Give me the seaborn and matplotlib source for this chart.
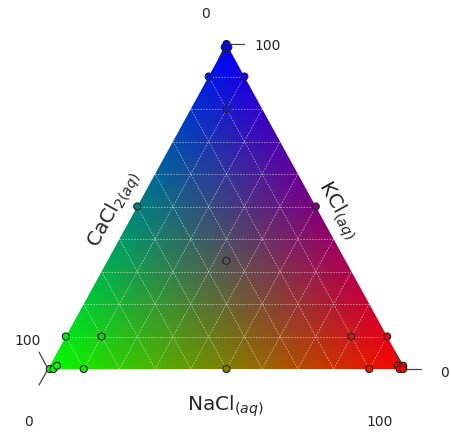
import numpy as np
import pandas as pd
import matplotlib
matplotlib.use("Agg")
import matplotlib.pyplot as plt
from matplotlib.patches import Polygon
import seaborn as sns

# composizioni in percentuale (NaCl, KCl, CaCl2)
nacl  = [0, 1, 0, 1, 0, 10, 10, 0, 50, 33.3, 0, 10, 10, 0.5, 1.5, 2, 97.5, 98.5, 99, 99.5, 90, 80, 90, 50]
kcl   = [100, 98, 99, 99, 90, 90, 80, 50, 50, 33.3, 10, 10, 0, 0, 0, 1, 1, 0, 1, 0, 0, 10, 10, 0]
cacl2 = [100 - a - b for a, b in zip(nacl, kcl)]

axis_bottom = "NaCl$_{(aq)}$"
axis_left = "CaCl$_{2(aq)}$"
axis_right = "KCl$_{(aq)}$"

sns.set_style("white")
plt.rcParams['font.family'] = ['DejaVu Sans']

fig = plt.figure(figsize=(4.52, 4.32), dpi=100)
ax = fig.add_axes([0, 0, 1, 1])
ax.set_xlim(-13.45, 113.17)
ax.set_ylim(-19.38, 113.54)
ax.axis("off")

# sfondo: colore RGB = (NaCl, CaCl2, KCl)
n = 400
xs = np.linspace(0, 100, n)
ys = np.linspace(0, 100, n)
X, Y = np.meshgrid(xs, ys)
k = Y
na = X - Y / 2
ca = 100 - na - k
img = np.clip(np.dstack([na, ca, k]) / 100, 0, 1)
im = ax.imshow(img, extent=[0, 100, 0, 100], origin="lower", aspect="auto",
               interpolation="bilinear", zorder=1)
tri = Polygon([[0, 0], [100, 0], [50, 100]], closed=True, transform=ax.transData,
              facecolor="none", edgecolor="none")
ax.add_patch(tri)
im.set_clip_path(tri)

def to_xy(a, b):
    # a = NaCl, b = KCl
    return a + b / 2, b

# griglia ogni 10%
for i in range(10, 100, 10):
    gl = dict(color="white", lw=0.6, ls=(0, (2, 1.5)), alpha=0.5, zorder=2)
    p, q = to_xy(0, i), to_xy(100 - i, i)
    ax.plot([p[0], q[0]], [p[1], q[1]], **gl)
    p, q = to_xy(i, 0), to_xy(i, 100 - i)
    ax.plot([p[0], q[0]], [p[1], q[1]], **gl)
    p, q = to_xy(0, 100 - i), to_xy(100 - i, 0)
    ax.plot([p[0], q[0]], [p[1], q[1]], **gl)

# punti
df = pd.DataFrame({"nacl": nacl, "kcl": kcl, "cacl2": cacl2})
df["x"] = df.nacl + df.kcl / 2
df["y"] = df.kcl
df["id"] = [str(i) for i in range(len(df))]
cols = [(a / 100, c / 100, b / 100) for a, b, c in zip(nacl, kcl, cacl2)]
sns.scatterplot(data=df, x="x", y="y", hue="id", palette=cols, legend=False,
                s=26, edgecolor="#222222", linewidth=0.8, ax=ax, zorder=5, clip_on=False)

# tacche agli angoli
px_x, px_y = 3.57, 3.25
tk = dict(color="#444444", lw=0.9, zorder=3, clip_on=False)
def tick(x0, y0, dx, dy):
    ax.plot([x0, x0 + dx / px_x], [y0, y0 - dy / px_y], **tk)

tick(0, 0, -9, -17)
tick(100, 0, -10, -17)
tick(100, 0, 16, 0)
tick(50, 100, 18, 0)
tick(0, 0, -9, 16)
tick(50, 100, -8, 15)

def px(xp, yp):
    return (xp - 48) / px_x, (369 - yp) / px_y

fs = 10
ax.text(*px(28, 422), "0", ha="center", va="center", fontsize=fs)
ax.text(*px(380, 422), "100", ha="center", va="center", fontsize=fs)
ax.text(*px(445, 373), "0", ha="center", va="center", fontsize=fs)
ax.text(*px(268, 46), "100", ha="center", va="center", fontsize=fs)
ax.text(*px(28, 341), "100", ha="center", va="center", fontsize=fs)
ax.text(*px(205, 14), "0", ha="center", va="center", fontsize=fs)

ax.text(*px(225, 406), axis_bottom, ha="center", va="center", fontsize=14.5)
ax.text(*px(114, 210), axis_left, ha="center", va="center", fontsize=14.5, rotation=61)
ax.text(*px(337, 210), axis_right, ha="center", va="center", fontsize=14.5, rotation=-61)

fig.savefig("out.png", dpi=100)
